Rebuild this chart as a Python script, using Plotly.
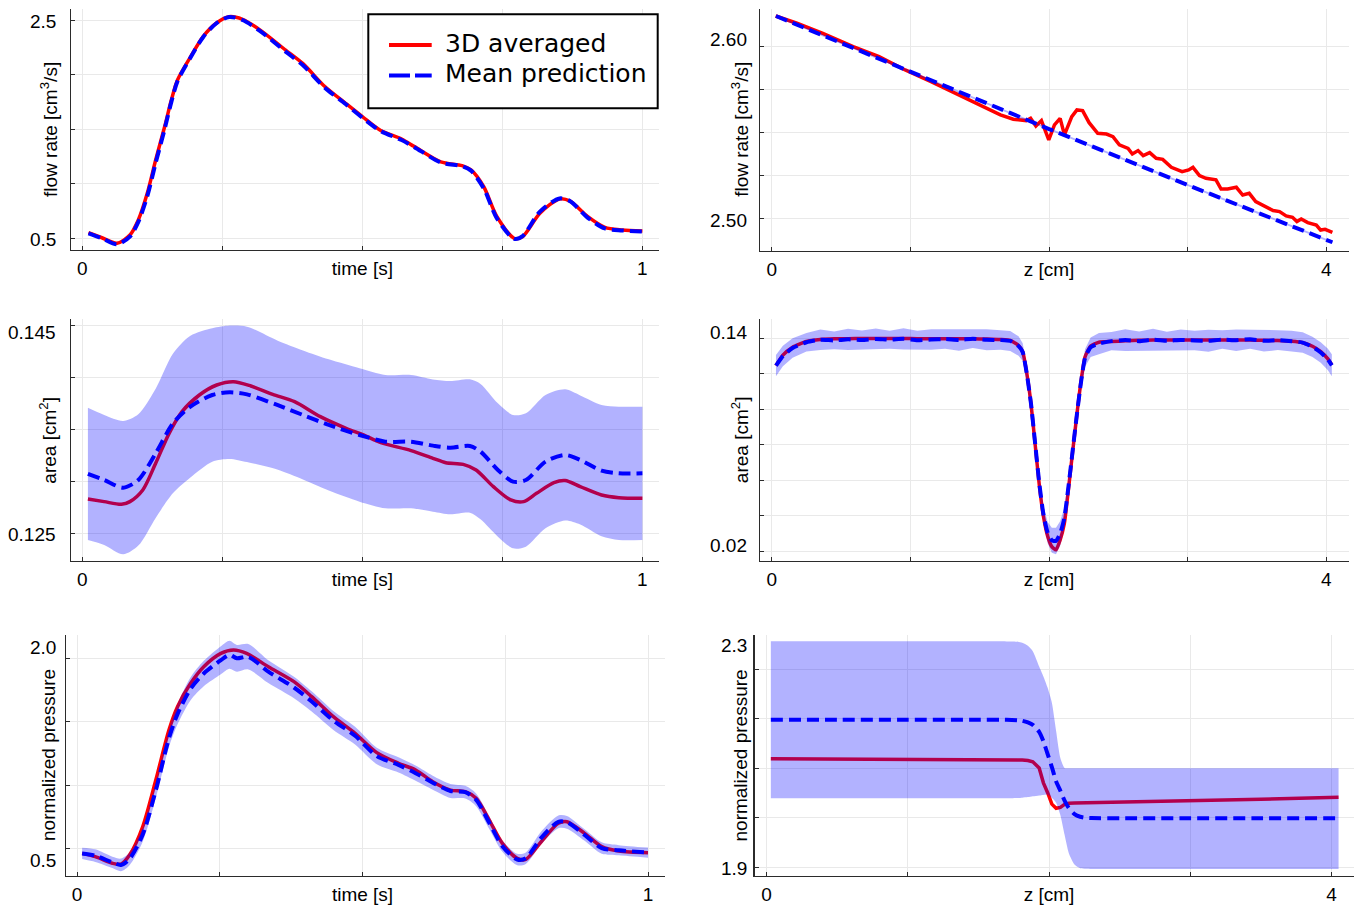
import plotly.graph_objects as go

W, H = 1359, 906

# ---------------- data ----------------
# Panel 1: flow rate vs time
time_q = [0.011, 0.035, 0.062, 0.085, 0.100, 0.116, 0.131, 0.147, 0.159, 0.170,
          0.193, 0.216, 0.239, 0.262, 0.286, 0.317, 0.363, 0.394, 0.433, 0.470,
          0.500, 0.532, 0.570, 0.593, 0.640, 0.678, 0.694, 0.717, 0.740, 0.771,
          0.786, 0.817, 0.852, 0.871, 0.902, 0.933, 0.964, 1.000]
q_time_3d = [0.551, 0.505, 0.454, 0.53, 0.668, 0.912, 1.217, 1.522, 1.767, 1.95,
             2.16, 2.35, 2.47, 2.53, 2.506, 2.41, 2.225, 2.10, 1.89, 1.737,
             1.615, 1.49, 1.41, 1.34, 1.20, 1.166, 1.126, 0.97, 0.70, 0.50,
             0.515, 0.73, 0.86, 0.84, 0.70, 0.60, 0.576, 0.567]
q_time_pred = [0.545, 0.50, 0.445, 0.515, 0.650, 0.885, 1.19, 1.50, 1.75, 1.94,
               2.155, 2.345, 2.468, 2.528, 2.50, 2.40, 2.21, 2.085, 1.88, 1.73,
               1.605, 1.485, 1.40, 1.335, 1.195, 1.16, 1.12, 0.955, 0.685, 0.495,
               0.52, 0.745, 0.865, 0.84, 0.69, 0.59, 0.572, 0.562]

# Panel 2: flow rate vs z
z_q_3d = [0.028, 0.181, 0.368, 0.587, 0.774, 0.962, 1.149, 1.368, 1.524, 1.649,
          1.742, 1.805, 1.836, 1.867, 1.905, 1.945, 1.998, 2.039, 2.080, 2.111,
          2.164, 2.201, 2.242, 2.289, 2.351, 2.414, 2.461, 2.507, 2.570, 2.601,
          2.642, 2.679, 2.726, 2.773, 2.820, 2.882, 2.960, 3.007, 3.038, 3.085,
          3.132, 3.204, 3.241, 3.288, 3.351, 3.397, 3.444, 3.491, 3.553, 3.616,
          3.663, 3.710, 3.756, 3.788, 3.819, 3.866, 3.928, 3.959, 3.991, 4.044]
q_z_3d = [2.6174, 2.6132, 2.6073, 2.5996, 2.5938, 2.5861, 2.5793, 2.5706, 2.5648, 2.5600,
          2.5575, 2.5567, 2.5567, 2.5580, 2.5536, 2.5567, 2.5455, 2.5542, 2.5580, 2.5484,
          2.5590, 2.5629, 2.5625, 2.5555, 2.5493, 2.5489, 2.5474, 2.5426, 2.5406, 2.5373,
          2.5393, 2.5364, 2.5381, 2.5348, 2.5342, 2.5296, 2.5271, 2.5281, 2.5296, 2.5248,
          2.5232, 2.5223, 2.5170, 2.5170, 2.5180, 2.5135, 2.5145, 2.5097, 2.5072, 2.5045,
          2.5039, 2.5014, 2.5006, 2.4981, 2.4996, 2.4975, 2.4961, 2.4932, 2.4936, 2.4919]
z_q_pred = [0.03, 1.0, 2.0, 3.0, 4.044]
q_z_pred = [2.6174, 2.5850, 2.5518, 2.5193, 2.4861]
q_z_sd = [0.0006, 0.0006, 0.0006, 0.0006, 0.0006]

# Panel 3: area vs time
time_a_3d = [0.010, 0.039, 0.070, 0.085, 0.108, 0.131, 0.155, 0.178, 0.209, 0.240,
             0.270, 0.301, 0.340, 0.379, 0.425, 0.471, 0.502, 0.533, 0.587, 0.626,
             0.649, 0.680, 0.703, 0.734, 0.765, 0.788, 0.811, 0.842, 0.862, 0.889,
             0.927, 0.958, 1.0]
a_time_3d = [0.12830, 0.12804, 0.12778, 0.12804, 0.12916, 0.13172, 0.13460, 0.13668, 0.13828, 0.13924,
             0.13956, 0.13914, 0.13834, 0.13764, 0.13620, 0.13508, 0.13444, 0.13370, 0.13294, 0.13220,
             0.13178, 0.13162, 0.13108, 0.12948, 0.12820, 0.12804, 0.12884, 0.12986, 0.13006, 0.12948,
             0.12868, 0.12842, 0.12836]
time_a_pred = [0.010, 0.039, 0.073, 0.100, 0.131, 0.162, 0.193, 0.232, 0.263, 0.294,
               0.348, 0.394, 0.440, 0.495, 0.541, 0.587, 0.626, 0.657, 0.692, 0.711,
               0.742, 0.769, 0.792, 0.827, 0.862, 0.889, 0.927, 0.958, 1.0]
a_time_pred = [0.13070, 0.13012, 0.12938, 0.13012, 0.13268, 0.13556, 0.13716, 0.13828, 0.13854, 0.13834,
               0.13732, 0.13636, 0.13540, 0.13444, 0.13380, 0.13380, 0.13342, 0.13322, 0.13338, 0.13284,
               0.13108, 0.12996, 0.13012, 0.13188, 0.13252, 0.13204, 0.13102, 0.13076, 0.13076]
a_time_sd = [0.00635, 0.00624, 0.0064, 0.0063, 0.0062, 0.0067, 0.0068, 0.0064, 0.0064, 0.0065,
             0.0062, 0.0062, 0.0063, 0.0064, 0.0064, 0.0064, 0.00635, 0.0064, 0.0064, 0.0065,
             0.0064, 0.0064, 0.0064, 0.0064, 0.0063, 0.0062, 0.0063, 0.0064, 0.0064]

# Panel 4: area vs z
z_a = [0.03, 0.08, 0.15, 0.25, 0.35, 0.45, 0.55, 0.65, 0.75, 0.85,
       0.95, 1.05, 1.15, 1.25, 1.35, 1.45, 1.55, 1.65, 1.72, 1.78,
       1.81, 1.84, 1.87, 1.90, 1.93, 1.96, 1.99, 2.02, 2.05, 2.08,
       2.11, 2.14, 2.17, 2.20, 2.23, 2.26, 2.30, 2.36, 2.45, 2.55,
       2.65, 2.75, 2.85, 2.95, 3.05, 3.15, 3.25, 3.35, 3.45, 3.55,
       3.65, 3.75, 3.83, 3.90, 3.96, 4.01, 4.04]
a_z_3d = [0.1246, 0.1305, 0.1350, 0.1382, 0.1393, 0.1397, 0.1398, 0.1399, 0.1399, 0.1399,
          0.1399, 0.1398, 0.1398, 0.1398, 0.1398, 0.1397, 0.1396, 0.1393, 0.1388, 0.1360,
          0.1325, 0.1200, 0.1030, 0.0800, 0.0570, 0.0395, 0.0285, 0.0226, 0.0208, 0.0264,
          0.0355, 0.0550, 0.0760, 0.0965, 0.1155, 0.1296, 0.1356, 0.1378, 0.1382, 0.1386,
          0.1389, 0.1390, 0.1391, 0.1391, 0.1391, 0.1391, 0.1391, 0.1391, 0.1390, 0.1389,
          0.1387, 0.1383, 0.1375, 0.1355, 0.1325, 0.1285, 0.1250]
a_z_pred = [0.1246, 0.1300, 0.1345, 0.1378, 0.1392, 0.1388, 0.1394, 0.1390, 0.1396, 0.1392,
            0.1397, 0.1389, 0.1393, 0.1396, 0.1391, 0.1397, 0.1392, 0.1390, 0.1385, 0.1356,
            0.1322, 0.1198, 0.1030, 0.0805, 0.0580, 0.0405, 0.0305, 0.0262, 0.0258, 0.0300,
            0.0385, 0.0565, 0.0765, 0.0965, 0.1150, 0.1290, 0.1350, 0.1370, 0.1384, 0.1390,
            0.1384, 0.1392, 0.1386, 0.1391, 0.1388, 0.1386, 0.1393, 0.1389, 0.1395, 0.1386,
            0.1390, 0.1384, 0.1376, 0.1352, 0.1320, 0.1282, 0.1248]
a_z_sd = [0.0060, 0.0058, 0.0055, 0.0052, 0.0058, 0.0050, 0.0060, 0.0054, 0.0059, 0.0051,
          0.0060, 0.0053, 0.0058, 0.0055, 0.0061, 0.0052, 0.0059, 0.0055, 0.0056, 0.0055,
          0.0050, 0.0045, 0.0045, 0.0045, 0.0045, 0.0050, 0.0060, 0.0070, 0.0075, 0.0070,
          0.0060, 0.0050, 0.0045, 0.0045, 0.0045, 0.0050, 0.0055, 0.0060, 0.0052, 0.0061,
          0.0054, 0.0062, 0.0051, 0.0058, 0.0055, 0.0062, 0.0052, 0.0060, 0.0054, 0.0061,
          0.0056, 0.0059, 0.0058, 0.0057, 0.0058, 0.0060, 0.0062]

# Panel 5: normalized pressure vs time
time_p_3d = [0.009, 0.032, 0.062, 0.077, 0.092, 0.115, 0.138, 0.161, 0.176, 0.199,
             0.222, 0.252, 0.274, 0.297, 0.335, 0.380, 0.411, 0.449, 0.487, 0.525,
             0.563, 0.593, 0.623, 0.654, 0.680, 0.699, 0.722, 0.745, 0.771, 0.786,
             0.813, 0.843, 0.858, 0.889, 0.919, 0.949, 1.0]
p_time_3d = [0.463, 0.437, 0.385, 0.379, 0.450, 0.673, 1.041, 1.435, 1.619, 1.803,
             1.934, 2.039, 2.066, 2.039, 1.934, 1.816, 1.698, 1.540, 1.409, 1.257,
             1.173, 1.120, 1.028, 0.962, 0.949, 0.897, 0.726, 0.542, 0.424, 0.416,
             0.555, 0.700, 0.713, 0.621, 0.516, 0.482, 0.469]
time_p_pred = [0.009, 0.032, 0.062, 0.077, 0.092, 0.115, 0.138, 0.161, 0.176, 0.199,
               0.222, 0.252, 0.267, 0.280, 0.300, 0.335, 0.380, 0.411, 0.449, 0.487,
               0.525, 0.563, 0.593, 0.623, 0.654, 0.680, 0.699, 0.722, 0.745, 0.771,
               0.786, 0.813, 0.843, 0.858, 0.889, 0.919, 0.949, 1.0]
p_time_pred = [0.463, 0.445, 0.392, 0.372, 0.420, 0.610, 0.960, 1.370, 1.560, 1.760,
               1.880, 1.985, 2.028, 2.000, 2.012, 1.895, 1.770, 1.660, 1.510, 1.390,
               1.230, 1.160, 1.095, 1.020, 0.955, 0.945, 0.885, 0.705, 0.520, 0.415,
               0.425, 0.585, 0.712, 0.708, 0.608, 0.505, 0.488, 0.469]
p_time_sd = [0.045, 0.05, 0.045, 0.05, 0.05, 0.055, 0.06, 0.07, 0.08, 0.09,
             0.10, 0.11, 0.11, 0.105, 0.10, 0.09, 0.085, 0.08, 0.075, 0.07,
             0.065, 0.06, 0.06, 0.055, 0.055, 0.05, 0.05, 0.05, 0.045, 0.045,
             0.045, 0.05, 0.05, 0.05, 0.045, 0.045, 0.04, 0.04]

# Panel 6: normalized pressure vs z
z_p = [0.03, 0.5, 1.0, 1.5, 1.70, 1.78, 1.81, 1.85, 1.885, 1.93,
       1.96, 1.99, 2.02, 2.05, 2.08, 2.11, 2.14, 2.18, 2.22, 2.26,
       2.30, 2.5, 3.0, 3.5, 4.05]
p_z_3d = [2.1189, 2.1184, 2.1178, 2.1172, 2.1168, 2.1165, 2.1160, 2.1150, 2.1125, 2.1000,
          2.0700, 2.0500, 2.0270, 2.0186, 2.0205, 2.0265, 2.0287, 2.0291, 2.0293, 2.0295,
          2.0297, 2.0306, 2.0335, 2.0370, 2.0407]
p_z_pred = [2.1976, 2.1976, 2.1976, 2.1976, 2.1975, 2.1965, 2.1955, 2.1920, 2.1870, 2.1730,
            2.1540, 2.1280, 2.1020, 2.0730, 2.0540, 2.0340, 2.0190, 2.0070, 2.0015, 1.9995,
            1.9988, 1.9984, 1.9984, 1.9984, 1.9984]
p_z_hi = [2.3559, 2.3559, 2.3559, 2.3559, 2.3558, 2.3552, 2.3530, 2.3470, 2.3360, 2.3050,
          2.2850, 2.2620, 2.2320, 2.1750, 2.1200, 2.1000, 2.0996, 2.0995, 2.0995, 2.0995,
          2.0995, 2.0995, 2.0995, 2.0995, 2.0995]
p_z_lo = [2.0388, 2.0388, 2.0388, 2.0388, 2.0388, 2.0392, 2.0400, 2.0412, 2.0428, 2.0445,
          2.0455, 2.0462, 2.0400, 2.0300, 2.0050, 1.9650, 1.9280, 1.9050, 1.8975, 1.8965,
          1.8962, 1.8962, 1.8962, 1.8962, 1.8962]

# Ticks and labels
time_ticks = [0, 0.5, 1]
time_ticktext = ["0", "time [s]", "1"]
time_minor = [0.25, 0.75]
z_ticks = [0, 2, 4]
z_ticktext = ["0", "z [cm]", "4"]
z_minor = [1, 3]
q_time_ticks = [0.5, 1.0, 1.5, 2.0, 2.5]
q_time_labels = ["2.5", "0.5"]
q_z_ticks = [2.5, 2.525, 2.55, 2.575, 2.6]
q_z_labels = ["2.60", "2.50"]
a_time_ticks = [0.125, 0.13, 0.135, 0.14, 0.145]
a_time_labels = ["0.145", "0.125"]
a_z_ticks = [0.02, 0.04, 0.06, 0.08, 0.10, 0.12, 0.14]
a_z_labels = ["0.14", "0.02"]
p_time_ticks = [0.5, 1.0, 1.5, 2.0]
p_time_labels = ["2.0", "0.5"]
p_z_ticks = [1.9, 2.0, 2.1, 2.2, 2.3]
p_z_labels = ["2.3", "1.9"]

y_titles = ["flow rate [cm<sup>3</sup>/s]", "flow rate [cm<sup>3</sup>/s]",
            "area [cm<sup>2</sup>]", "area [cm<sup>2</sup>]",
            "normalized pressure", "normalized pressure"]
legend_names = ["3D averaged", "Mean prediction"]

# ---------------- styling / layout geometry (pixels) ----------------
RED = "rgb(255,0,0)"
BLUE = "rgb(0,0,255)"
BAND = "rgba(0,0,255,0.3)"
RED_W = 3.5
BLUE_W = 4
DASH = "12px,6px"
TICK_FONT = dict(family="Liberation Sans, Arial, sans-serif", size=19, color="black")
AXIS_COLOR = "#2b2b2b"
GRID_COLOR = "#e9e9e9"

panels = [
    dict(box=(71.4, 9, 659, 250), xcal=(0, 82.3, 1, 642.4), ycal=(0.5, 238.3, 2.5, 20.0),
         xt=time_ticks, xtt=time_ticktext, xm=time_minor, yt=q_time_ticks, ylab=q_time_labels,
         ylab_px=(21.7, 239.3), ylab_right=57.6, ytitle_x=48.5),
    dict(box=(760, 9, 1349, 250.7), xcal=(0, 771.8, 4, 1326.3), ycal=(2.5, 218.3, 2.6, 46.0),
         xt=z_ticks, xtt=z_ticktext, xm=z_minor, yt=q_z_ticks, ylab=q_z_labels,
         ylab_px=(39.3, 220.0), ylab_right=749.3, ytitle_x=740),
    dict(box=(71.4, 319.3, 659, 561), xcal=(0, 82.3, 1, 642.4), ycal=(0.125, 533.3, 0.145, 325.0),
         xt=time_ticks, xtt=time_ticktext, xm=time_minor, yt=a_time_ticks, ylab=a_time_labels,
         ylab_px=(332.3, 534.3), ylab_right=57.6, ytitle_x=48.5),
    dict(box=(760, 319.3, 1349, 561), xcal=(0, 771.8, 4, 1326.3), ycal=(0.02, 551.3, 0.14, 338.3),
         xt=z_ticks, xtt=z_ticktext, xm=z_minor, yt=a_z_ticks, ylab=a_z_labels,
         ylab_px=(332.3, 545.7), ylab_right=749.3, ytitle_x=740),
    dict(box=(65.8, 635, 664.5, 876), xcal=(0, 77.0, 1, 648.0), ycal=(0.5, 848.7, 2.0, 658.3),
         xt=time_ticks, xtt=time_ticktext, xm=time_minor, yt=p_time_ticks, ylab=p_time_labels,
         ylab_px=(647.3, 860.7), ylab_right=57.6, ytitle_x=48.5),
    dict(box=(754.5, 635, 1354, 876), xcal=(0, 766.6, 4, 1331.5), ycal=(1.9, 867.0, 2.3, 669.0),
         xt=z_ticks, xtt=z_ticktext, xm=z_minor, yt=p_z_ticks, ylab=p_z_labels,
         ylab_px=(645.0, 868.3), ylab_right=749.3, ytitle_x=740),
]


def lin(v0, p0, v1, p1, q):
    return v0 + (q - p0) * (v1 - v0) / (p1 - p0)


fig = go.Figure()


def ax(i):
    return ("x" if i == 0 else "x%d" % (i + 1)), ("y" if i == 0 else "y%d" % (i + 1))


def line_style(color, width, shape, smoothing, dash=None):
    st = dict(color=color, width=width, shape=shape)
    if shape == "spline":
        st["smoothing"] = smoothing
    if dash:
        st["dash"] = dash
    return st


def add_line(i, x, y, color, width, dash=None, shape="spline", smoothing=0.8, name=None):
    xa, ya = ax(i)
    fig.add_trace(go.Scatter(x=x, y=y, xaxis=xa, yaxis=ya, mode="lines",
                             line=line_style(color, width, shape, smoothing, dash),
                             name=name, showlegend=False, hoverinfo="skip"))


def add_band(i, x, lo, hi, shape="linear", smoothing=0.8):
    xa, ya = ax(i)
    fig.add_trace(go.Scatter(x=x, y=lo, xaxis=xa, yaxis=ya, mode="lines",
                             line=line_style("rgba(0,0,0,0)", 0, shape, smoothing),
                             showlegend=False, hoverinfo="skip"))
    fig.add_trace(go.Scatter(x=x, y=hi, xaxis=xa, yaxis=ya, mode="lines", fill="tonexty",
                             fillcolor=BAND, line=line_style("rgba(0,0,0,0)", 0, shape, smoothing),
                             showlegend=False, hoverinfo="skip"))


def band_from_sd(m, s):
    return [a - b for a, b in zip(m, s)], [a + b for a, b in zip(m, s)]


# Panel 1
add_line(0, time_q, q_time_3d, RED, RED_W, name=legend_names[0])
add_line(0, time_q, q_time_pred, BLUE, BLUE_W, dash=DASH, name=legend_names[1])

# Panel 2
add_line(1, z_q_3d, q_z_3d, RED, RED_W, shape="linear", name=legend_names[0])
lo, hi = band_from_sd(q_z_pred, q_z_sd)
add_band(1, z_q_pred, lo, hi)
add_line(1, z_q_pred, q_z_pred, BLUE, BLUE_W, dash=DASH, shape="linear", name=legend_names[1])

# Panel 3
add_line(2, time_a_3d, a_time_3d, RED, RED_W, name=legend_names[0])
lo, hi = band_from_sd(a_time_pred, a_time_sd)
add_band(2, time_a_pred, lo, hi, shape="spline")
add_line(2, time_a_pred, a_time_pred, BLUE, BLUE_W, dash=DASH, name=legend_names[1])

# Panel 4
add_line(3, z_a, a_z_3d, RED, RED_W, shape="spline", smoothing=0.5, name=legend_names[0])
lo, hi = band_from_sd(a_z_pred, a_z_sd)
add_band(3, z_a, lo, hi)
add_line(3, z_a, a_z_pred, BLUE, BLUE_W, dash=DASH, shape="spline", smoothing=0.5, name=legend_names[1])

# Panel 5
add_line(4, time_p_3d, p_time_3d, RED, RED_W, name=legend_names[0])
lo, hi = band_from_sd(p_time_pred, p_time_sd)
add_band(4, time_p_pred, lo, hi, shape="spline")
add_line(4, time_p_pred, p_time_pred, BLUE, BLUE_W, dash=DASH, name=legend_names[1])

# Panel 6
add_line(5, z_p, p_z_3d, RED, RED_W, shape="linear", name=legend_names[0])
add_band(5, z_p, p_z_lo, p_z_hi, shape="spline", smoothing=0.6)
add_line(5, z_p, p_z_pred, BLUE, BLUE_W, dash=DASH, shape="spline", smoothing=0.6, name=legend_names[1])

layout = dict(width=W, height=H, autosize=False, margin=dict(l=0, r=0, t=0, b=0),
              paper_bgcolor="white", plot_bgcolor="white", showlegend=False)
annotations = []
shapes = []

for i, p in enumerate(panels):
    x0, ytop, x1, ybot = p["box"]
    xr = [lin(*p["xcal"], x0), lin(*p["xcal"], x1)]
    yr = [lin(*p["ycal"], ybot), lin(*p["ycal"], ytop)]
    xa, ya = ax(i)
    xkey = "xaxis" if i == 0 else "xaxis%d" % (i + 1)
    ykey = "yaxis" if i == 0 else "yaxis%d" % (i + 1)
    layout[xkey] = dict(domain=[x0 / W, x1 / W], range=xr, anchor=ya,
                        tickmode="array", tickvals=p["xt"], ticktext=p["xtt"],
                        minor=dict(tickmode="array", tickvals=p["xm"], ticks="inside", ticklen=4,
                                   tickwidth=1, tickcolor=AXIS_COLOR, showgrid=True,
                                   gridcolor=GRID_COLOR, gridwidth=1),
                        showline=True, linecolor=AXIS_COLOR, linewidth=1.2,
                        ticks="inside", ticklen=4, tickwidth=1, tickcolor=AXIS_COLOR,
                        showgrid=True, gridcolor=GRID_COLOR, gridwidth=1, zeroline=False,
                        tickfont=TICK_FONT, ticklabelstandoff=1, fixedrange=True)
    layout[ykey] = dict(domain=[1 - ybot / H, 1 - ytop / H], range=yr, anchor=xa,
                        tickmode="array", tickvals=p["yt"], showticklabels=False,
                        showline=True, linecolor=AXIS_COLOR, linewidth=1.2,
                        ticks="inside", ticklen=4, tickwidth=1, tickcolor=AXIS_COLOR,
                        showgrid=True, gridcolor=GRID_COLOR, gridwidth=1, zeroline=False,
                        fixedrange=True)
    # y tick labels (top, bottom)
    for txt, py in zip(p["ylab"], p["ylab_px"]):
        annotations.append(dict(text=txt, xref="paper", yref="paper",
                                x=p["ylab_right"] / W, y=1 - py / H,
                                xanchor="right", yanchor="middle", showarrow=False,
                                font=TICK_FONT))
    # y title
    annotations.append(dict(text=y_titles[i], xref="paper", yref="paper",
                            x=p["ytitle_x"] / W, y=1 - (ytop + ybot) / 2 / H,
                            xanchor="center", yanchor="middle", textangle=-90,
                            showarrow=False, font=TICK_FONT))

# Legend (drawn in panel 1, top right)
LEG = dict(box=(368.3, 14.3, 657.7, 108.3), line_x=(389, 431.7), rows=(45, 75.5),
           text_dy=-2, text_x=443)
bx0, by0, bx1, by1 = LEG["box"]
shapes.append(dict(type="rect", xref="paper", yref="paper", x0=bx0 / W, x1=bx1 / W,
                   y0=1 - by1 / H, y1=1 - by0 / H, line=dict(color="black", width=2),
                   fillcolor="white", layer="above"))
leg_styles = [dict(color=RED, width=4), dict(color=BLUE, width=4, dash="21px,5px")]
for name, row, st in zip(legend_names, LEG["rows"], leg_styles):
    shapes.append(dict(type="line", xref="paper", yref="paper",
                       x0=LEG["line_x"][0] / W, x1=LEG["line_x"][1] / W,
                       y0=1 - row / H, y1=1 - row / H, line=st, layer="above"))
    annotations.append(dict(text=name, xref="paper", yref="paper", x=LEG["text_x"] / W,
                            y=1 - (row + LEG["text_dy"]) / H, xanchor="left", yanchor="middle",
                            showarrow=False,
                            font=dict(family="DejaVu Sans", size=25, color="black")))

layout["annotations"] = annotations
layout["shapes"] = shapes
fig.update_layout(**layout)
fig.write_html(
    "out.html",
    config={"displayModeBar": False, "staticPlot": True},
    post_script=("document.body.style.margin='0';"
                 "document.body.style.overflow='hidden';"
                 "document.documentElement.style.overflow='hidden';"),
)
